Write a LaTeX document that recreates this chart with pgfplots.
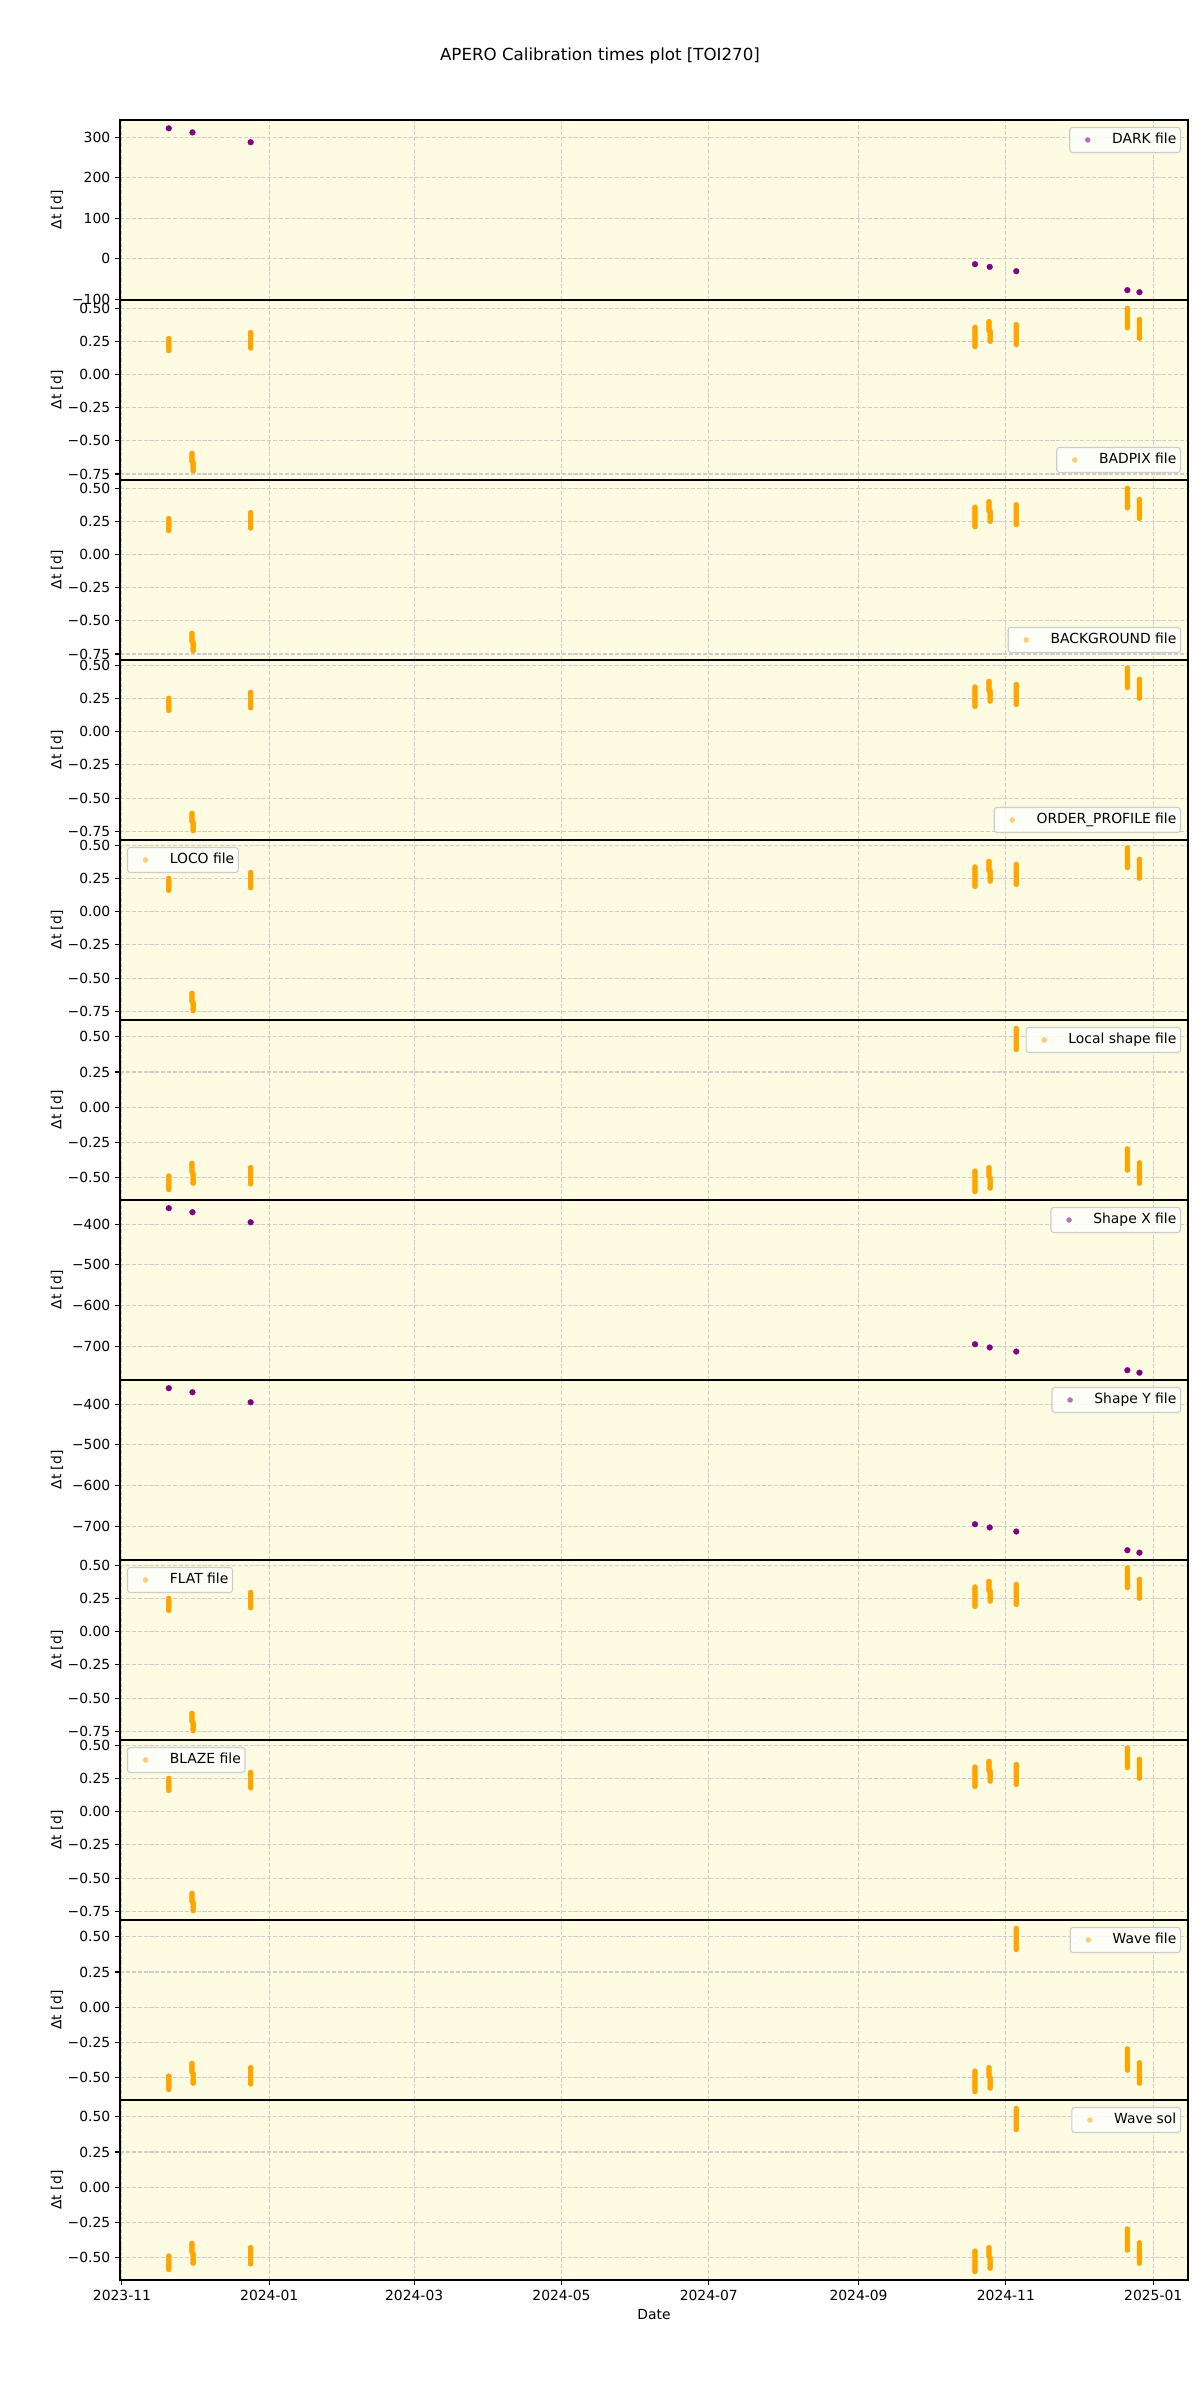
\documentclass[border=0pt]{standalone}
\usepackage{fontspec}
\setmainfont{DejaVu Sans}
\usepackage{pgfplots}
\usepackage{pgfplotstable}
\pgfplotsset{compat=1.18}

\definecolor{mplorange}{RGB}{255,165,0}
\definecolor{mplpurple}{RGB}{128,0,128}
\definecolor{bgy}{RGB}{253,252,226}
\definecolor{gridc}{RGB}{205,205,205}
\definecolor{legc}{RGB}{204,204,204}

% Orange streaks, panels BADPIX / BACKGROUND
\pgfplotstableread[row sep=\\]{
x y\\
19.4 0.180\\ 19.4 0.195\\ 19.4 0.210\\ 19.4 0.225\\ 19.4 0.240\\ 19.4 0.255\\ 19.4 0.270\\
29.0 -0.595\\ 29.0 -0.610\\ 29.0 -0.625\\ 29.0 -0.640\\ 29.0 -0.655\\
29.5 -0.665\\ 29.5 -0.680\\ 29.5 -0.695\\ 29.5 -0.710\\ 29.5 -0.725\\
53.3 0.200\\ 53.3 0.215\\ 53.3 0.230\\ 53.3 0.245\\ 53.3 0.260\\ 53.3 0.275\\ 53.3 0.290\\ 53.3 0.305\\ 53.3 0.315\\
353.2 0.210\\ 353.2 0.225\\ 353.2 0.240\\ 353.2 0.255\\ 353.2 0.270\\ 353.2 0.285\\ 353.2 0.300\\ 353.2 0.315\\ 353.2 0.330\\ 353.2 0.345\\ 353.2 0.355\\
359.0 0.330\\ 359.0 0.345\\ 359.0 0.360\\ 359.0 0.375\\ 359.0 0.390\\ 359.0 0.398\\
359.5 0.250\\ 359.5 0.265\\ 359.5 0.280\\ 359.5 0.295\\ 359.5 0.310\\ 359.5 0.325\\
370.3 0.225\\ 370.3 0.240\\ 370.3 0.255\\ 370.3 0.270\\ 370.3 0.285\\ 370.3 0.300\\ 370.3 0.315\\ 370.3 0.330\\ 370.3 0.345\\ 370.3 0.360\\ 370.3 0.375\\
416.3 0.352\\ 416.3 0.367\\ 416.3 0.382\\ 416.3 0.397\\ 416.3 0.412\\ 416.3 0.427\\ 416.3 0.442\\ 416.3 0.457\\ 416.3 0.472\\ 416.3 0.487\\ 416.3 0.498\\
421.3 0.272\\ 421.3 0.287\\ 421.3 0.302\\ 421.3 0.317\\ 421.3 0.332\\ 421.3 0.347\\ 421.3 0.362\\ 421.3 0.377\\ 421.3 0.392\\ 421.3 0.407\\ 421.3 0.413\\
}\dataA

% Orange streaks, panels ORDER_PROFILE / LOCO / FLAT / BLAZE
\pgfplotstableread[row sep=\\]{
x y\\
19.4 0.160\\ 19.4 0.175\\ 19.4 0.190\\ 19.4 0.205\\ 19.4 0.220\\ 19.4 0.235\\ 19.4 0.250\\
29.0 -0.615\\ 29.0 -0.630\\ 29.0 -0.645\\ 29.0 -0.660\\ 29.0 -0.675\\
29.5 -0.685\\ 29.5 -0.700\\ 29.5 -0.715\\ 29.5 -0.730\\ 29.5 -0.745\\
53.3 0.180\\ 53.3 0.195\\ 53.3 0.210\\ 53.3 0.225\\ 53.3 0.240\\ 53.3 0.255\\ 53.3 0.270\\ 53.3 0.285\\ 53.3 0.295\\
353.2 0.190\\ 353.2 0.205\\ 353.2 0.220\\ 353.2 0.235\\ 353.2 0.250\\ 353.2 0.265\\ 353.2 0.280\\ 353.2 0.295\\ 353.2 0.310\\ 353.2 0.325\\ 353.2 0.335\\
359.0 0.310\\ 359.0 0.325\\ 359.0 0.340\\ 359.0 0.355\\ 359.0 0.370\\ 359.0 0.378\\
359.5 0.230\\ 359.5 0.245\\ 359.5 0.260\\ 359.5 0.275\\ 359.5 0.290\\ 359.5 0.305\\
370.3 0.205\\ 370.3 0.220\\ 370.3 0.235\\ 370.3 0.250\\ 370.3 0.265\\ 370.3 0.280\\ 370.3 0.295\\ 370.3 0.310\\ 370.3 0.325\\ 370.3 0.340\\ 370.3 0.355\\
416.3 0.332\\ 416.3 0.347\\ 416.3 0.362\\ 416.3 0.377\\ 416.3 0.392\\ 416.3 0.407\\ 416.3 0.422\\ 416.3 0.437\\ 416.3 0.452\\ 416.3 0.467\\ 416.3 0.478\\
421.3 0.252\\ 421.3 0.267\\ 421.3 0.282\\ 421.3 0.297\\ 421.3 0.312\\ 421.3 0.327\\ 421.3 0.342\\ 421.3 0.357\\ 421.3 0.372\\ 421.3 0.387\\ 421.3 0.393\\
}\dataB

% Orange streaks, panels Local shape / Wave file / Wave sol
\pgfplotstableread[row sep=\\]{
x y\\
19.4 -0.585\\ 19.4 -0.570\\ 19.4 -0.555\\ 19.4 -0.540\\ 19.4 -0.525\\ 19.4 -0.510\\ 19.4 -0.495\\ 19.4 -0.490\\
29.0 -0.400\\ 29.0 -0.415\\ 29.0 -0.430\\ 29.0 -0.445\\ 29.0 -0.460\\
29.5 -0.475\\ 29.5 -0.490\\ 29.5 -0.505\\ 29.5 -0.520\\ 29.5 -0.535\\ 29.5 -0.540\\
53.3 -0.545\\ 53.3 -0.530\\ 53.3 -0.515\\ 53.3 -0.500\\ 53.3 -0.485\\ 53.3 -0.470\\ 53.3 -0.455\\ 53.3 -0.440\\ 53.3 -0.430\\
353.2 -0.600\\ 353.2 -0.585\\ 353.2 -0.570\\ 353.2 -0.555\\ 353.2 -0.540\\ 353.2 -0.525\\ 353.2 -0.510\\ 353.2 -0.495\\ 353.2 -0.480\\ 353.2 -0.465\\ 353.2 -0.455\\
359.0 -0.430\\ 359.0 -0.445\\ 359.0 -0.460\\ 359.0 -0.475\\ 359.0 -0.490\\
359.5 -0.505\\ 359.5 -0.520\\ 359.5 -0.535\\ 359.5 -0.550\\ 359.5 -0.565\\ 359.5 -0.575\\
370.3 0.410\\ 370.3 0.425\\ 370.3 0.440\\ 370.3 0.455\\ 370.3 0.470\\ 370.3 0.485\\ 370.3 0.500\\ 370.3 0.515\\ 370.3 0.530\\ 370.3 0.545\\ 370.3 0.560\\
416.3 -0.447\\ 416.3 -0.432\\ 416.3 -0.417\\ 416.3 -0.402\\ 416.3 -0.387\\ 416.3 -0.372\\ 416.3 -0.357\\ 416.3 -0.342\\ 416.3 -0.327\\ 416.3 -0.312\\ 416.3 -0.297\\
421.3 -0.540\\ 421.3 -0.525\\ 421.3 -0.510\\ 421.3 -0.495\\ 421.3 -0.480\\ 421.3 -0.465\\ 421.3 -0.450\\ 421.3 -0.435\\ 421.3 -0.420\\ 421.3 -0.405\\ 421.3 -0.396\\
}\dataC

% DARK file
\pgfplotstableread[row sep=\\]{
x y\\
19.4 322\\ 29.2 312\\ 53.3 287.7\\ 353.2 -13\\ 359.3 -19.7\\ 370.3 -30.3\\ 416.3 -77\\ 421.3 -82\\
}\dataDark

% Shape X / Shape Y
\pgfplotstableread[row sep=\\]{
x y\\
19.4 -360.4\\ 29.2 -370.3\\ 53.3 -395\\ 353.2 -695\\ 359.3 -703\\ 370.3 -713\\ 416.3 -759\\ 421.3 -765\\
}\dataShape

\pgfplotsset{
  base/.style={
    scale only axis, width=768.96pt, height=129.6pt,
    anchor=north west,
    xmin=-0.8, xmax=441.4,
    axis background/.style={fill=bgy},
    grid=major,
    major grid style={draw=gridc, line width=0.8pt, dash pattern=on 2.96pt off 1.28pt},
    axis line style={line width=0.8pt, black},
    tick align=outside,
    xtick pos=bottom, ytick pos=left,
    major tick length=3.5pt,
    every tick/.style={black, line width=0.8pt},
    xtick={0,61,121,182,243,305,366,427},
    xticklabels={},
    xtick style={draw=none},
    ylabel={Δt [d]},
    ylabel style={at={(axis description cs:-0.059,0.5)}, anchor=center, font=\fontsize{10}{12}\selectfont},
    ticklabel style={font=\fontsize{10}{12}\selectfont},
    legend cell align=left,
    legend style={font=\fontsize{10}{12}\selectfont, draw=legc, line width=0.8pt,
      fill=white, fill opacity=0.8, text opacity=1, rounded corners=2pt,
      inner xsep=2pt, inner ysep=3pt,
      nodes={inner sep=1pt, text height=7.6pt, text depth=2.4pt},
      /tikz/every odd column/.append style={column sep=5.5pt}},
  },
  ur/.style={legend style={at={(1,1)}, anchor=north east, xshift=-5pt, yshift=-5pt}},
  lr/.style={legend style={at={(1,0)}, anchor=south east, xshift=-5pt, yshift=5pt}},
  ul/.style={legend style={at={(0,1)}, anchor=north west, xshift=5pt, yshift=-5pt}},
  orleg/.style={legend image code/.code={\path[draw=none,fill=none] (0pt,-2pt) (22pt,2pt); \fill[draw=none, mplorange, fill opacity=0.55] (11pt,0pt) circle (2pt);}},
  puleg/.style={legend image code/.code={\path[draw=none,fill=none] (0pt,-2pt) (22pt,2pt); \fill[draw=none, mplpurple, fill opacity=0.55] (11pt,0pt) circle (2pt);}},
  ydark/.style={ymin=-101.2, ymax=342.6, ytick={-100,0,100,200,300}, yticklabels={−100,0,100,200,300}},
  yA/.style={ymin=-0.795, ymax=0.561, ytick={-0.75,-0.5,-0.25,0,0.25,0.5}, yticklabels={−0.75,−0.50,−0.25,0.00,0.25,0.50}},
  yB/.style={ymin=-0.815, ymax=0.539, ytick={-0.75,-0.5,-0.25,0,0.25,0.5}, yticklabels={−0.75,−0.50,−0.25,0.00,0.25,0.50}},
  yC/.style={ymin=-0.660, ymax=0.620, ytick={-0.5,-0.25,0,0.25,0.5}, yticklabels={−0.50,−0.25,0.00,0.25,0.50}},
  yS/.style={ymin=-783, ymax=-340.2, ytick={-700,-600,-500,-400}, yticklabels={−700,−600,−500,−400}},
  opts/.style={only marks, color=mplorange, mark=*, mark size=1.85pt, mark options={fill=mplorange, draw=mplorange, line width=0.2pt}},
  ppts/.style={only marks, color=mplpurple, mark=*, mark size=2.1pt, mark options={fill=mplpurple, draw=mplpurple, line width=0.2pt}},
}

\begin{document}
\begin{tikzpicture}
\useasboundingbox (0pt,0pt) rectangle (864pt,1728pt);
\node[font=\fontsize{12}{14}\selectfont] at (432pt,1687.7pt) {APERO Calibration times plot [TOI270]};

\begin{axis}[base, at={(86.4pt,1641.6pt)}, ydark, ur, puleg]
\addplot[ppts] table[x=x,y=y] {\dataDark};
\addlegendentry{DARK file}
\end{axis}

\begin{axis}[base, at={(86.4pt,1512.0pt)}, yA, lr, orleg]
\addplot[opts] table[x=x,y=y] {\dataA};
\addlegendentry{BADPIX file}
\end{axis}

\begin{axis}[base, at={(86.4pt,1382.4pt)}, yA, lr, orleg]
\addplot[opts] table[x=x,y=y] {\dataA};
\addlegendentry{BACKGROUND file}
\end{axis}

\begin{axis}[base, at={(86.4pt,1252.8pt)}, yB, lr, orleg]
\addplot[opts] table[x=x,y=y] {\dataB};
\addlegendentry{ORDER\_PROFILE file}
\end{axis}

\begin{axis}[base, at={(86.4pt,1123.2pt)}, yB, ul, orleg]
\addplot[opts] table[x=x,y=y] {\dataB};
\addlegendentry{LOCO file}
\end{axis}

\begin{axis}[base, at={(86.4pt,993.6pt)}, yC, ur, orleg]
\addplot[opts] table[x=x,y=y] {\dataC};
\addlegendentry{Local shape file}
\end{axis}

\begin{axis}[base, at={(86.4pt,864.0pt)}, yS, ur, puleg]
\addplot[ppts] table[x=x,y=y] {\dataShape};
\addlegendentry{Shape X file}
\end{axis}

\begin{axis}[base, at={(86.4pt,734.4pt)}, yS, ur, puleg]
\addplot[ppts] table[x=x,y=y] {\dataShape};
\addlegendentry{Shape Y file}
\end{axis}

\begin{axis}[base, at={(86.4pt,604.8pt)}, yB, ul, orleg]
\addplot[opts] table[x=x,y=y] {\dataB};
\addlegendentry{FLAT file}
\end{axis}

\begin{axis}[base, at={(86.4pt,475.2pt)}, yB, ul, orleg]
\addplot[opts] table[x=x,y=y] {\dataB};
\addlegendentry{BLAZE file}
\end{axis}

\begin{axis}[base, at={(86.4pt,345.6pt)}, yC, ur, orleg]
\addplot[opts] table[x=x,y=y] {\dataC};
\addlegendentry{Wave file}
\end{axis}

\begin{axis}[base, at={(86.4pt,216.0pt)}, yC, ur, orleg,
  xticklabels={2023-11,2024-01,2024-03,2024-05,2024-07,2024-09,2024-11,2025-01},
  xtick style={draw=black},
  xlabel={Date}, xlabel style={font=\fontsize{10}{12}\selectfont}]
\addplot[opts] table[x=x,y=y] {\dataC};
\addlegendentry{Wave sol}
\end{axis}
\end{tikzpicture}
\end{document}
